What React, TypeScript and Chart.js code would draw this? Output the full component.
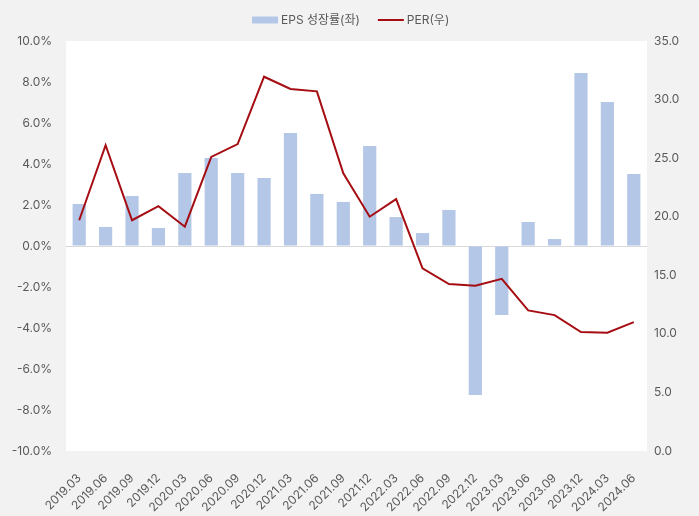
import React, { useEffect, useRef } from 'react';
import { Chart, registerables } from 'chart.js';

Chart.register(...registerables);

const categories = [
  '2019.03', '2019.06', '2019.09', '2019.12',
  '2020.03', '2020.06', '2020.09', '2020.12',
  '2021.03', '2021.06', '2021.09', '2021.12',
  '2022.03', '2022.06', '2022.09', '2022.12',
  '2023.03', '2023.06', '2023.09', '2023.12',
  '2024.03', '2024.06',
];

const epsGrowth = [
  2.05, 0.93, 2.44, 0.88,
  3.56, 4.29, 3.56, 3.32,
  5.51, 2.54, 2.15, 4.88,
  1.41, 0.63, 1.76, -7.27,
  -3.37, 1.17, 0.34, 8.44,
  7.02, 3.51,
];

const per = [
  19.7, 26.1, 19.7, 20.9,
  19.15, 25.1, 26.2, 31.95,
  30.9, 30.7, 23.7, 20.0,
  21.5, 15.6, 14.25, 14.1,
  14.7, 12.0, 11.6, 10.15,
  10.1, 11.0,
];

const seriesNames = ['EPS 성장률(좌)', 'PER(우)'];

const BAR_COLOR = '#b4c7e7';
const LINE_COLOR = '#a50d12';
const TEXT_COLOR = '#595959';
const FONT_FAMILY = 'Inter, "Noto Sans CJK KR", "Noto Sans", sans-serif';

export default function App() {
  const ref = useRef<HTMLCanvasElement>(null);

  useEffect(() => {
    if (!ref.current) return;

    const plotBg = {
      id: 'plotBg',
      beforeDraw(chart: any) {
        const { ctx, chartArea: a } = chart;
        ctx.save();
        ctx.fillStyle = '#ffffff';
        ctx.fillRect(a.left, a.top, a.right - a.left, a.bottom - a.top);
        ctx.restore();
      },
    };

    const customLegend = {
      id: 'customLegend',
      afterDraw(chart: any) {
        const { ctx } = chart;
        ctx.save();
        ctx.font = `12px ${FONT_FAMILY}`;
        ctx.textBaseline = 'middle';
        ctx.fillStyle = TEXT_COLOR;
        const ds = chart.data.datasets;
        const t0 = ds[0].label as string;
        const t1 = ds[1].label as string;
        const w0 = ctx.measureText(t0).width;
        const w1 = ctx.measureText(t1).width;
        const box = 26, gap = 3, itemGap = 18;
        const total = box + gap + w0 + itemGap + box + gap + w1;
        let x = Math.round(chart.width / 2 - total / 2) + 1;
        const cy = 20;
        ctx.fillStyle = BAR_COLOR;
        ctx.fillRect(x, cy - 3.5, box, 7);
        x += box + gap;
        ctx.fillStyle = TEXT_COLOR;
        ctx.fillText(t0, x, cy);
        x += w0 + itemGap;
        ctx.strokeStyle = LINE_COLOR;
        ctx.lineWidth = 2;
        ctx.beginPath();
        ctx.moveTo(x, cy);
        ctx.lineTo(x + box, cy);
        ctx.stroke();
        x += box + gap;
        ctx.fillText(t1, x, cy);
        ctx.restore();
      },
    };

    const chart = new Chart(ref.current, {
      type: 'bar',
      data: {
        labels: categories,
        datasets: [
          {
            type: 'bar',
            label: seriesNames[0],
            data: epsGrowth,
            yAxisID: 'y',
            backgroundColor: BAR_COLOR,
            categoryPercentage: 1,
            barPercentage: 0.5,
            order: 2,
          },
          {
            type: 'line',
            label: seriesNames[1],
            data: per,
            yAxisID: 'y1',
            borderColor: LINE_COLOR,
            backgroundColor: LINE_COLOR,
            borderWidth: 2,
            pointRadius: 0,
            tension: 0,
            order: 1,
          } as any,
        ],
      },
      options: {
        responsive: false,
        animation: false,
        layout: { padding: { top: 41, left: 0, right: 0, bottom: 0 } },
        plugins: {
          legend: { display: false },
          tooltip: { enabled: false },
        },
        scales: {
          x: {
            grid: { display: false },
            border: { display: false },
            ticks: {
              color: TEXT_COLOR,
              font: { size: 12, family: FONT_FAMILY },
              minRotation: 45,
              maxRotation: 45,
              autoSkip: false,
              padding: 12,
            },
            afterFit(s: any) { s.height = 65; },
          },
          y: {
            position: 'left',
            min: -10,
            max: 10,
            border: { display: false },
            grid: {
              drawTicks: false,
              color: (c: any) => (c.tick && c.tick.value === 0 ? '#d9d9d9' : 'rgba(0,0,0,0)'),
              lineWidth: 1,
            },
            ticks: {
              stepSize: 2,
              color: TEXT_COLOR,
              font: { size: 12, family: FONT_FAMILY },
              padding: 14,
              callback: (v: any) => Number(v).toFixed(1) + '%',
            },
            afterFit(s: any) { s.width = 66; },
          },
          y1: {
            position: 'right',
            min: 0,
            max: 35,
            border: { display: false },
            grid: { display: false, drawTicks: false },
            ticks: {
              stepSize: 5,
              color: TEXT_COLOR,
              font: { size: 12, family: FONT_FAMILY },
              padding: 7,
              callback: (v: any) => Number(v).toFixed(1),
            },
            afterFit(s: any) { s.width = 52; },
          },
        },
      },
      plugins: [plotBg, customLegend],
    });

    return () => chart.destroy();
  }, []);

  return (
    <div
      style={{
        position: 'fixed',
        left: 0,
        top: 0,
        width: 699,
        height: 516,
        background: '#f2f2f2',
      }}
    >
      <canvas ref={ref} width={699} height={516} style={{ display: 'block' }} />
    </div>
  );
}
